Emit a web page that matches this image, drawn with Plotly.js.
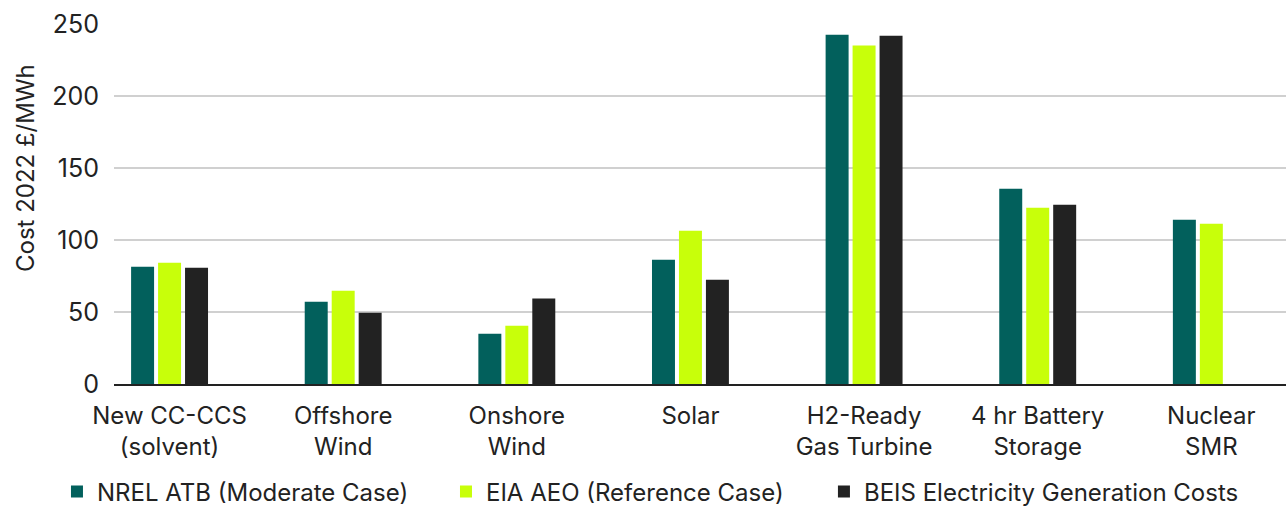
<!DOCTYPE html>
<html>
<head>
<meta charset="utf-8">
<script src="https://cdn.plot.ly/plotly-3.0.1.min.js"></script>
<style>html,body{margin:0;padding:0;background:#fff;}#chart{width:1286px;height:508px;}</style>
</head>
<body>
<div id="chart"></div>
<script>
const categories = ["New CC-CCS<br>(solvent)", "Offshore<br>Wind", "Onshore<br>Wind", "Solar", "H2-Ready<br>Gas Turbine", "4 hr Battery<br>Storage", "Nuclear<br>SMR"];
const nrelATB = [81.5, 57.2, 34.9, 86.3, 242.6, 135.6, 114.1];
const eiaAEO = [84.2, 64.8, 40.5, 106.5, 235.0, 122.4, 111.3];
const beisCosts = [80.8, 49.5, 59.3, 72.4, 241.9, 124.5, null];
const seriesNames = ["NREL ATB (Moderate Case)", "EIA AEO (Reference Case)", "BEIS Electricity Generation Costs"];
const seriesColors = ["#02605c", "#c8ff0a", "#222222"];
const yTicks = [0, 50, 100, 150, 200, 250];
const yTitle = "Cost 2022 £/MWh";

const legendIds = ["legend", "legend2", "legend3"];
const legendLeft = [0.0443, 0.3468, 0.6407];

const allSeries = [nrelATB, eiaAEO, beisCosts];
const traces = allSeries.map((vals, i) => ({
  type: "bar",
  x: categories,
  y: vals,
  name: seriesNames[i],
  legend: legendIds[i],
  marker: {color: seriesColors[i], line: {width: 0}},
  hoverinfo: "y+name"
}));

const layout = {
  width: 1286, height: 508,
  margin: {l: 114, r: 0, t: 24, b: 124, pad: 0, autoexpand: false},
  paper_bgcolor: "#ffffff", plot_bgcolor: "#ffffff",
  font: {family: "Inter, 'Noto Sans', sans-serif", color: "#222222", size: 24},
  barmode: "group",
  bargap: 0.534,
  bargroupgap: 0.148,
  showlegend: true,
  xaxis: {
    type: "category",
    range: [-0.32, 6.43],
    showgrid: false, zeroline: false,
    showline: true, linecolor: "#222222", linewidth: 2,
    ticks: "", tickfont: {size: 24, color: "#222222"},
    ticklabelstandoff: 9,
    automargin: false
  },
  yaxis: {
    range: [0, 250],
    tickvals: yTicks,
    showgrid: true, gridcolor: "#d0d0d0", gridwidth: 1.5,
    zeroline: false, showline: false,
    ticks: "", tickfont: {size: 25, color: "#222222"},
    ticklabelstandoff: 14,
    automargin: false
  },
  annotations: [{
    text: yTitle, textangle: -90,
    xref: "paper", x: -0.0759, xanchor: "center",
    yref: "paper", y: 0.6, yanchor: "middle",
    showarrow: false, font: {size: 24, color: "#222222"}
  }]
};

legendIds.forEach((id, i) => {
  layout[id] = {
    orientation: "h",
    xref: "container", x: legendLeft[i], xanchor: "left",
    yref: "container", y: 0.0315, yanchor: "middle",
    font: {size: 24, color: "#222222"},
    itemwidth: 30, bgcolor: "rgba(0,0,0,0)"
  };
});

Plotly.newPlot("chart", traces, layout, {displayModeBar: false, staticPlot: true});
</script>
</body>
</html>
